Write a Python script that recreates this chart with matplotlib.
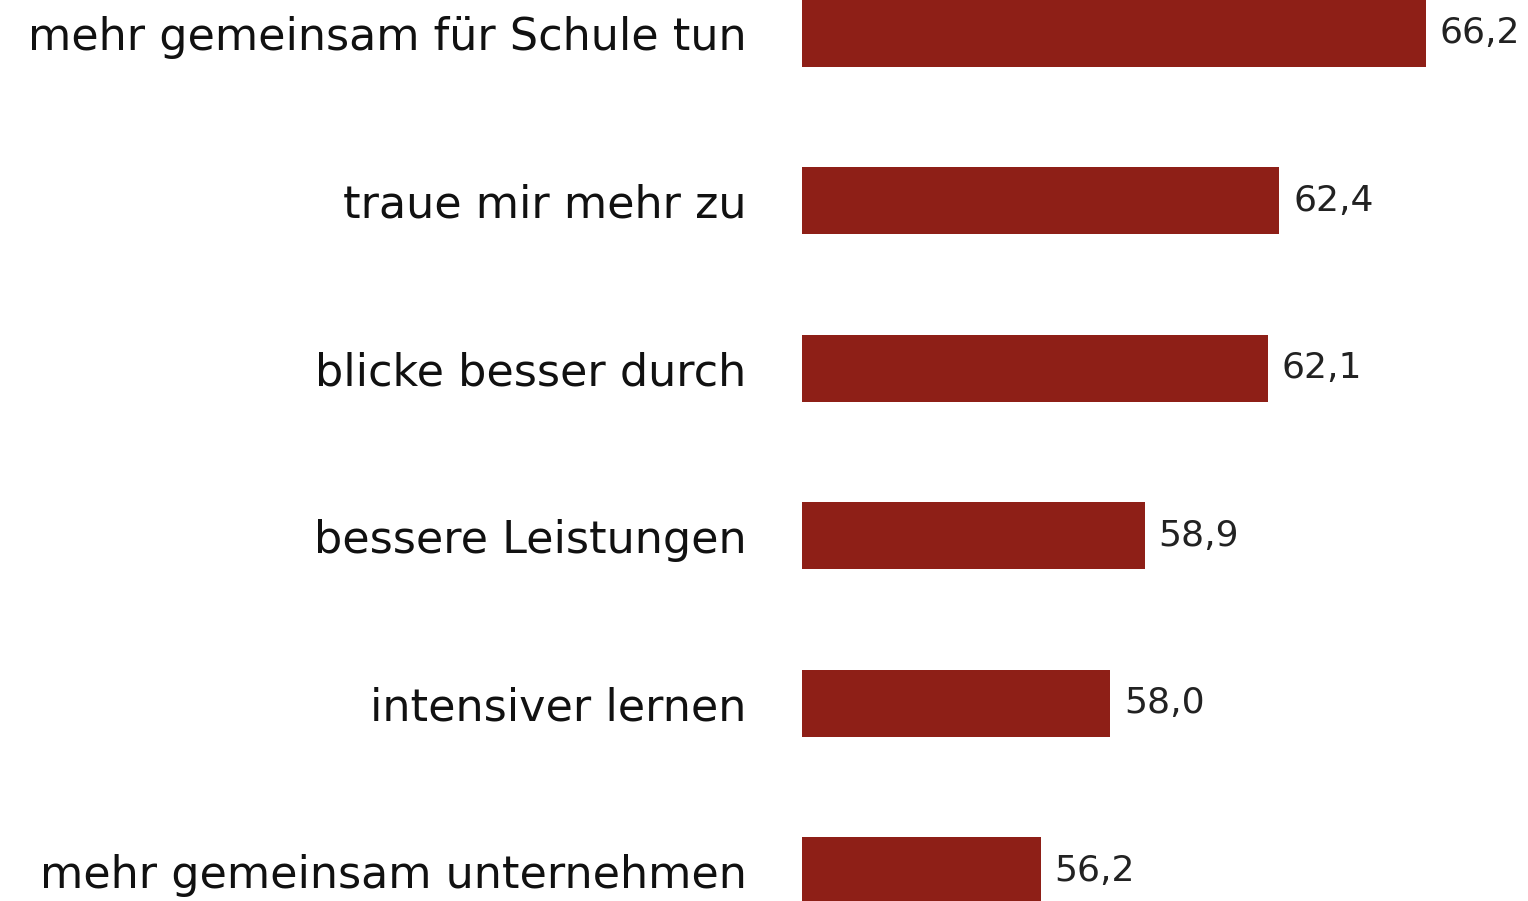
import matplotlib.pyplot as plt

labels = ["mehr gemeinsam für Schule tun", "traue mir mehr zu", "blicke besser durch",
          "bessere Leistungen", "intensiver lernen", "mehr gemeinsam unternehmen"]
values = [66.2, 62.4, 62.1, 58.9, 58.0, 56.2]
value_text = ["66,2", "62,4", "62,1", "58,9", "58,0", "56,2"]

fig = plt.figure(figsize=(15.28, 9.01), dpi=100)
ax = fig.add_axes([802 / 1528, 0, 1 - 802 / 1528, 1])

pos = list(range(len(labels)))
ax.barh(pos, [v - 50 for v in values], left=50, height=0.40, color="#8E1F17")

for p, v, t in zip(pos, values, value_text):
    ax.annotate(t, (v, p), xytext=(10, 0), textcoords="offset points",
                va="center", ha="left", fontsize=26, color="#222222")

ax.set_xlim(50, 50 + 726 / 38.5)
ax.set_ylim(5.18, -0.197)
ax.set_yticks(pos)
ax.set_yticklabels(labels, fontsize=32, color="#111111")
ax.tick_params(axis="y", length=0, pad=40)
ax.set_xticks([])
for s in ax.spines.values():
    s.set_visible(False)

fig.savefig("out.png", dpi=100)
